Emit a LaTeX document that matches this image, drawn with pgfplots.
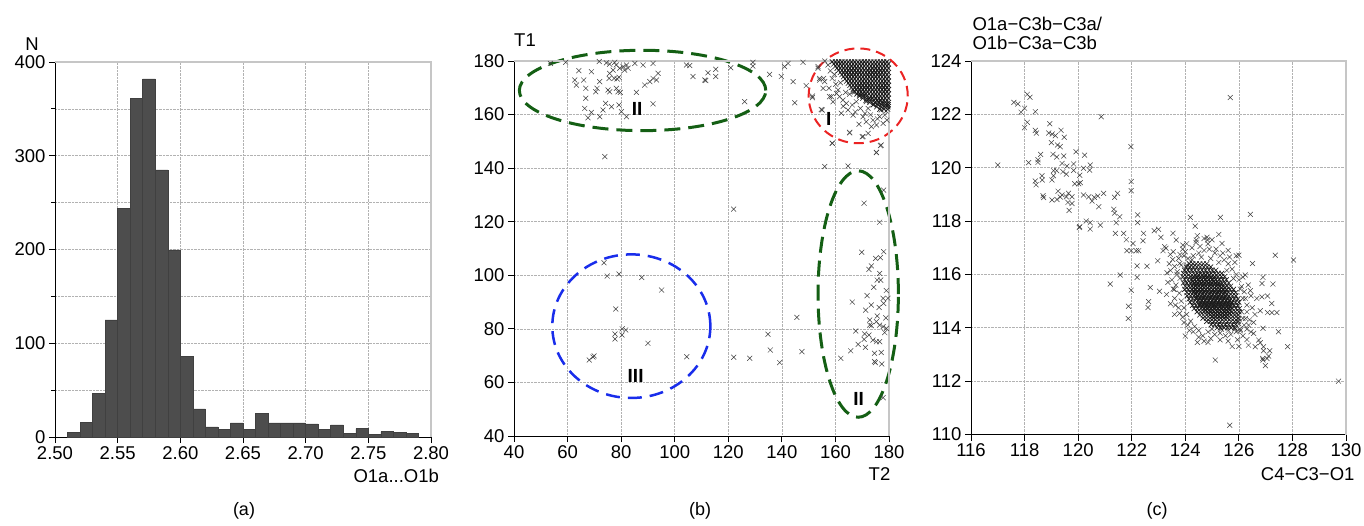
\documentclass[border=0pt]{standalone}
\usepackage{pgfplots}
\pgfplotsset{compat=1.18}
\usepackage{fontspec}
\setmainfont{Liberation Sans}
\definecolor{dgreen}{RGB}{20,95,20}
\definecolor{ered}{RGB}{235,35,35}
\definecolor{eblue}{RGB}{25,45,235}
\definecolor{barfill}{RGB}{77,77,77}
\pgfplotsset{
  myax/.style={
    scale only axis, anchor=south west,
    axis lines*=left,
    axis line style={-, black, line width=0.9pt},
    tick align=outside,
    major tick length=6pt, minor tick length=4pt,
    tick style={black, line width=0.8pt},
    grid=major,
    major grid style={gray!60, densely dotted, line width=0.6pt},
    minor grid style={gray!60, densely dotted, line width=0.6pt},
    tick label style={font=\fontsize{18.5}{20}\selectfont},
    /pgf/number format/assume math mode=true,
    clip=false,
  },
  sc/.style={only marks, mark=x, mark size=3.5pt, mark options={line width=0.5pt, draw=black!75}},
  scd/.style={only marks, mark=x, mark size=3.5pt, mark options={line width=0.65pt, draw=black!90}},
}
\begin{document}
\begin{tikzpicture}
\useasboundingbox (0pt,0pt) rectangle (1364pt,525pt);
% ---------------- (a)
\begin{axis}[myax, at={(55pt,88pt)}, width=376pt, height=375pt,
  xmin=2.5, xmax=2.8, ymin=0, ymax=400,
  xtick={2.5,2.55,2.6,2.65,2.7,2.75,2.8},
  xticklabels={2.50,2.55,2.60,2.65,2.70,2.75,2.80},
  ytick={0,100,200,300,400}, minor ytick={50,150,250,350}, grid=both]
\addplot[ybar interval, mark=none, fill=barfill, draw=black!75, line width=0.5pt] coordinates {
(2.51,5.3)(2.52,16)(2.53,46.7)(2.54,125)(2.55,244)(2.56,361.5)(2.57,382)(2.58,285)(2.59,199.5)
(2.60,86)(2.61,30)(2.62,10.7)(2.63,8.5)(2.64,15)(2.65,7.8)(2.66,25.6)(2.67,15)(2.68,15)(2.69,15)
(2.70,14)(2.71,8)(2.72,13)(2.73,3.6)(2.74,9)(2.75,2.5)(2.76,5.7)(2.77,4.6)(2.78,3.6)(2.79,3.6)};
\draw[gray!45, line width=1.2pt] (rel axis cs:0,1) -- (rel axis cs:1,1) -- (rel axis cs:1,0);
\end{axis}
% ---------------- (b)
\begin{axis}[myax, at={(514pt,89pt)}, width=375pt, height=375pt,
  xmin=40, xmax=180, ymin=40, ymax=180,
  xtick={40,60,...,180}, ytick={40,60,...,180}]
\addplot[sc] coordinates {
(53.6,179.1)(59.3,179.5)(64.2,176.4)(68.9,176.0)(71.8,179.8)(74.5,179.3)(75.7,178.8)(77.6,179.5)(78.2,178.5)(80.7,177.9)(82.0,178.5)(82.6,177.3)(81.3,176.6)(79.5,177.3)(77.0,176.6)(75.7,175.4)(75.5,173.5)(77.4,173.5)(78.5,173.3)(79.2,173.9)(85.1,179.1)(88.2,178.5)(91.9,179.1)(93.8,175.4)(91.9,173.5)(93.2,172.9)(90.7,172.3)(88.8,171.0)(85.7,168.3)(62.7,172.9)(63.3,171.0)(66.0,172.9)(66.8,169.8)(71.0,169.8)(72.0,172.3)(70.5,168.5)(75.1,169.2)(75.7,168.5)(78.2,169.8)(78.8,168.5)(79.7,168.3)(66.8,166.1)(66.4,162.3)(68.9,160.8)(67.6,158.8)(72.0,159.2)(73.2,161.7)(74.2,164.2)(76.4,162.9)(79.2,163.6)(80.1,161.1)(82.0,159.2)(91.9,164.0)(73.9,144.3)(104.4,178.5)(105.6,178.3)(106.8,174.2)(111.2,172.9)
(112.4,175.6)(115.3,176.9)(115.3,174.2)(111.6,172.7)(120.9,177.5)(126.1,164.8)(129.2,179.5)(129.2,178.1)(135.4,175.0)(139.8,174.2)(141.0,177.9)(142.3,179.1)(144.2,172.3)(144.8,164.4)(147.9,179.5)(149.1,170.8)(151.4,166.9)(153.5,177.9)(154.1,172.9)(155.1,161.7)(157.8,166.7)(156.0,140.6)(164.7,140.8)(158.8,149.3)(165.3,153.2)(170.3,151.8)(175.3,145.8)(176.8,148.4)(178.0,131.8)(170.7,126.9)(176.5,119.8)(122.0,124.7)
(73.6,104.7)(74.8,99.7)(79.2,100.5)(87.7,99.2)(95.1,94.5)(78.0,87.4)(77.7,78.1)(77.7,76.2)(80.4,80.0)(81.7,79.6)(80.3,77.7)(90.0,74.6)(68.1,68.4)(69.9,69.9)(69.5,69.5)(104.5,69.6)(122.0,69.4)(128.0,69.0)(134.8,78.0)(135.7,72.1)(139.2,67.4)(145.6,84.3)(147.5,71.5)(162.0,69.0)(177.8,54.3)
(169.8,108.6)(178.0,108.8)(175.0,106.3)(176.8,106.6)(173.4,103.5)(172.5,102.2)(176.5,100.7)(175.6,98.2)(176.9,98.2)(174.3,95.5)(179.0,94.3)(171.8,92.4)(177.8,91.4)(179.6,91.4)(166.3,90.0)(173.4,88.9)(176.3,88.0)(178.0,89.5)(171.3,87.0)(175.6,84.8)(172.8,83.3)(178.8,84.1)(175.3,82.7)(173.4,81.2)(176.5,81.4)(177.8,80.8)(172.8,81.4)(179.0,80.2)(167.6,79.2)(170.9,78.1)(172.5,77.7)(178.4,78.6)(174.0,75.8)(175.3,75.2)(176.5,75.2)(170.7,76.1)(168.5,74.2)(171.2,73.1)(165.7,71.8)(174.6,70.9)(177.1,71.2)(174.6,67.8)(174.9,67.4)(177.3,66.9)
(153.5,177.3)(154.1,173.5)(155.6,173.5)(155.4,169.8)(157.6,169.8)(156.0,172.3)(151.4,166.3)(158.5,166.7)(159.1,164.8)(154.7,161.9)(161.6,166.7)(162.8,165.4)(164.1,164.2)(162.2,160.5)(164.7,161.7)(166.3,163.6)(166.6,159.8)(170.3,159.2)(171.5,157.3)(174.0,157.9)(175.3,156.1)(173.4,155.5)(172.2,153.0)(177.8,156.7)(178.4,159.8)(176.5,159.2)(177.1,161.7)(165.3,153.4)(170.0,151.7)(158.8,149.3)(177.1,148.6)(175.3,145.9)(169.3,162.3)(167.8,164.8)(172.2,162.3)(174.0,163.6)(179.6,163.6)(171.5,164.8)(175.9,164.8)(169.0,167.3)(166.6,168.5)(165.3,167.6)(163.8,168.3)(161.0,169.2)(160.1,171.3)(158.8,173.5)(158.1,176.3)(157.2,178.5)(156.0,180.0)
(160.4,167.9)(162.9,163.1)(167.4,161.0)(171.0,160.4)(173.1,159.9)(175.7,158.4)(179.2,157.9)(178.9,161.3)(168.8,156.4)(161.9,171.9)(159.6,175.0)
};
\addplot[scd] coordinates {
(158.8,179.7)(160.0,179.7)(161.2,179.7)(162.4,179.7)(163.6,179.7)(164.8,179.7)(166.0,179.7)(167.2,179.7)(168.4,179.7)(169.6,179.7)(170.8,179.7)(172.0,179.7)(173.2,179.7)(174.4,179.7)(175.6,179.7)(176.8,179.7)(178.0,179.7)(179.2,179.7)
(159.4,178.9)(160.6,178.9)(161.8,178.9)(163.0,178.9)(164.2,178.9)(165.4,178.9)(166.6,178.9)(167.8,178.9)(169.0,178.9)(170.2,178.9)(171.4,178.9)(172.6,178.9)(173.8,178.9)(175.0,178.9)(176.2,178.9)(177.4,178.9)(178.6,178.9)(179.8,178.9)
(160.0,178.1)(161.2,178.1)(162.4,178.1)(163.6,178.1)(164.8,178.1)(166.0,178.1)(167.2,178.1)(168.4,178.1)(169.6,178.1)(170.8,178.1)(172.0,178.1)(173.2,178.1)(174.4,178.1)(175.6,178.1)(176.8,178.1)(178.0,178.1)(179.2,178.1)
(160.6,177.3)(161.8,177.3)(163.0,177.3)(164.2,177.3)(165.4,177.3)(166.6,177.3)(167.8,177.3)(169.0,177.3)(170.2,177.3)(171.4,177.3)(172.6,177.3)(173.8,177.3)(175.0,177.3)(176.2,177.3)(177.4,177.3)(178.6,177.3)(179.8,177.3)
(161.2,176.5)(162.4,176.5)(163.6,176.5)(164.8,176.5)(166.0,176.5)(167.2,176.5)(168.4,176.5)(169.6,176.5)(170.8,176.5)(172.0,176.5)(173.2,176.5)(174.4,176.5)(175.6,176.5)(176.8,176.5)(178.0,176.5)(179.2,176.5)
(161.8,175.7)(163.0,175.7)(164.2,175.7)(165.4,175.7)(166.6,175.7)(167.8,175.7)(169.0,175.7)(170.2,175.7)(171.4,175.7)(172.6,175.7)(173.8,175.7)(175.0,175.7)(176.2,175.7)(177.4,175.7)(178.6,175.7)(179.8,175.7)
(162.4,174.9)(163.6,174.9)(164.8,174.9)(166.0,174.9)(167.2,174.9)(168.4,174.9)(169.6,174.9)(170.8,174.9)(172.0,174.9)(173.2,174.9)(174.4,174.9)(175.6,174.9)(176.8,174.9)(178.0,174.9)(179.2,174.9)
(163.0,174.1)(164.2,174.1)(165.4,174.1)(166.6,174.1)(167.8,174.1)(169.0,174.1)(170.2,174.1)(171.4,174.1)(172.6,174.1)(173.8,174.1)(175.0,174.1)(176.2,174.1)(177.4,174.1)(178.6,174.1)(179.8,174.1)
(163.6,173.3)(164.8,173.3)(166.0,173.3)(167.2,173.3)(168.4,173.3)(169.6,173.3)(170.8,173.3)(172.0,173.3)(173.2,173.3)(174.4,173.3)(175.6,173.3)(176.8,173.3)(178.0,173.3)(179.2,173.3)
(164.2,172.5)(165.4,172.5)(166.6,172.5)(167.8,172.5)(169.0,172.5)(170.2,172.5)(171.4,172.5)(172.6,172.5)(173.8,172.5)(175.0,172.5)(176.2,172.5)(177.4,172.5)(178.6,172.5)(179.8,172.5)
(164.8,171.7)(166.0,171.7)(167.2,171.7)(168.4,171.7)(169.6,171.7)(170.8,171.7)(172.0,171.7)(173.2,171.7)(174.4,171.7)(175.6,171.7)(176.8,171.7)(178.0,171.7)(179.2,171.7)
(165.4,170.9)(166.6,170.9)(167.8,170.9)(169.0,170.9)(170.2,170.9)(171.4,170.9)(172.6,170.9)(173.8,170.9)(175.0,170.9)(176.2,170.9)(177.4,170.9)(178.6,170.9)(179.8,170.9)
(165.9,170.1)(167.2,170.1)(168.4,170.1)(169.6,170.1)(170.8,170.1)(172.0,170.1)(173.2,170.1)(174.4,170.1)(175.6,170.1)(176.8,170.1)(178.0,170.1)(179.2,170.1)
(166.6,169.3)(167.8,169.3)(169.0,169.3)(170.2,169.3)(171.4,169.3)(172.6,169.3)(173.8,169.3)(175.0,169.3)(176.2,169.3)(177.4,169.3)(178.6,169.3)(179.8,169.3)
(167.2,168.5)(168.4,168.5)(169.6,168.5)(170.8,168.5)(172.0,168.5)(173.2,168.5)(174.4,168.5)(175.6,168.5)(176.8,168.5)(178.0,168.5)(179.2,168.5)
(168.0,167.7)(169.0,167.7)(170.2,167.7)(171.4,167.7)(172.6,167.7)(173.8,167.7)(175.0,167.7)(176.2,167.7)(177.4,167.7)(178.6,167.7)(179.8,167.7)
(169.0,166.9)(170.3,166.9)(171.6,166.9)(173.2,166.9)(174.4,166.9)(175.6,166.9)(176.8,166.9)(178.0,166.9)(179.2,166.9)
(170.2,166.1)(171.6,166.1)(172.8,166.1)(173.8,166.1)(175.0,166.1)(176.2,166.1)(177.4,166.1)(178.6,166.1)(179.8,166.1)
(171.4,165.3)(172.9,165.3)(174.4,165.3)(175.6,165.3)(176.8,165.3)(178.0,165.3)(179.2,165.3)
(172.8,164.5)(174.6,164.5)(176.2,164.5)(177.4,164.5)(178.6,164.5)(179.8,164.5)
(174.2,163.7)(175.8,163.7)(177.2,163.7)(178.6,163.7)(179.7,163.7)
(175.4,162.9)(177.0,162.9)(178.4,162.9)(179.6,162.9)
(176.6,162.0)(178.1,162.0)(179.5,162.0)
};
\draw[dgreen, line width=3pt, dash pattern=on 16pt off 8pt] (axis cs:88,169) ellipse [x radius=46, y radius=15];
\draw[ered, line width=2pt, dash pattern=on 10pt off 6pt] (axis cs:168.5,167) ellipse [x radius=18.5, y radius=17.7];
\draw[dgreen, line width=3pt, dash pattern=on 16pt off 8pt] (axis cs:168.5,93) ellipse [x radius=15, y radius=46];
\draw[eblue, line width=2.5pt, dash pattern=on 14pt off 8pt] (axis cs:83.8,81) ellipse [x radius=29.5, y radius=26.8];
\node[font=\fontsize{19}{20}\selectfont\bfseries] at (axis cs:86,162) {II};
\node[font=\fontsize{19}{20}\selectfont\bfseries] at (axis cs:157.5,158.2) {I};
\node[font=\fontsize{19}{20}\selectfont\bfseries] at (axis cs:168.7,53.7) {II};
\node[font=\fontsize{19}{20}\selectfont\bfseries] at (axis cs:85.4,62.4) {III};
\draw[gray!45, line width=1.2pt] (rel axis cs:0,1) -- (rel axis cs:1,1) -- (rel axis cs:1,0);
\end{axis}
% ---------------- (c)
\begin{axis}[myax, at={(971pt,90.5pt)}, width=375pt, height=373.5pt,
  xmin=116, xmax=130, ymin=110, ymax=124,
  xtick={116,118,...,130}, ytick={110,112,...,124}]
\addplot[sc] coordinates {
(117.0,120.1)(117.6,122.45)(117.75,122.39)(117.87,122.08)(118.0,122.23)(118.1,122.75)(118.2,122.64)(118.0,121.5)(118.1,121.7)(118.4,122.1)(118.4,121.4)(118.44,121.3)(118.15,120.19)(118.6,120.5)(118.5,120.3)(118.5,120.2)(118.4,119.5)(118.65,119.7)(118.66,119.54)(118.43,119.36)(118.69,118.95)(118.71,118.88)(118.94,121.65)(118.9,121.3)(119.0,120.94)(119.03,121.26)(119.15,121.2)(119.36,121.4)(119.23,120.85)(119.33,120.79)(119.48,121.14)(119.06,120.5)(119.2,120.4)(119.46,120.44)(119.08,119.89)(119.2,119.89)(119.4,120.16)(119.58,120.06)(119.43,119.85)(119.56,119.76)(119.02,119.54)(119.08,119.7)(119.25,119.12)(119.4,118.98)(119.21,118.81)(119.02,118.79)(119.33,118.9)(119.56,118.91)(119.64,119.04)(119.77,118.91)(119.62,118.7)(119.66,118.4)(119.77,118.66)(119.83,120.14)(119.92,120.6)(119.83,119.9)(120.02,119.4)(119.87,119.4)(120.06,119.72)(120.2,119.98)(120.24,120.47)(120.08,119.44)(120.2,118.98)(120.39,118.91)(120.45,120.1)(120.43,119.91)(120.52,118.75)(120.6,118.89)(120.73,118.94)(120.95,119.04)(120.86,121.91)(120.77,118.54)(120.83,117.85)(120.45,117.94)(120.3,118.0)(120.06,117.79)(120.04,117.76)(120.45,117.7)(121.36,118.89)(121.33,118.44)(121.36,118.3)(121.47,119.04)(121.55,118.16)(121.42,117.94)(121.39,117.54)(121.7,117.54)(121.8,117.3)(121.57,115.98)(121.2,115.64)(121.97,120.79)(121.98,119.48)(121.98,119.14)(121.82,116.89)(121.98,116.89)(121.98,115.41)(121.88,114.81)(121.87,114.35)(122.05,117.16)(122.17,116.89)(122.2,116.32)(122.2,115.89)(122.26,116.89)(122.22,118.23)(122.22,117.94)(122.44,117.54)(122.42,117.26)(122.57,116.31)(122.61,114.76)(122.63,114.98)(122.69,115.51)(122.84,117.64)(123.0,117.69)(122.97,116.51)(123.04,115.37)(123.09,117.39)(123.23,117.04)(123.17,116.89)(123.32,116.06)(123.28,116.98)(123.44,116.75)(123.66,117.29)(123.54,117.54)(123.59,115.44)(123.53,116.56)(123.69,116.0)(123.79,116.41)(123.91,117.1)(123.63,114.85)(123.79,114.54)(124.0,113.69)(124.19,118.14)(124.37,117.81)(124.41,117.29)(124.81,117.39)(124.83,117.29)(125.31,118.14)(125.37,117.16)(125.12,112.79)(125.68,122.63)(125.66,110.35)(126.0,116.72)(126.24,115.98)(126.43,118.25)(126.51,116.41)(126.43,115.39)(126.3,113.56)(126.36,113.35)(126.61,113.29)(126.55,113.79)(126.67,115.1)(126.74,113.54)(126.8,113.44)(126.92,113.29)(126.9,113.98)(126.9,115.89)(126.86,115.66)(126.86,115.16)(126.92,113.14)(126.89,112.85)(126.9,112.79)(126.99,112.58)(127.05,112.85)(127.11,112.94)(127.15,113.14)(127.07,114.57)(127.07,115.19)(127.23,114.57)(127.23,114.91)(127.27,115.64)(127.36,116.72)(127.42,114.57)(127.48,113.85)(127.82,113.29)(128.04,116.54)(129.72,112.0)(126.8,114.64)(126.36,114.1)(126.0,114.35)(126.05,113.89)
(123.75,116.6)(123.85,116.35)(123.7,116.1)(123.8,115.85)(123.65,115.6)(123.78,115.3)(123.85,115.0)(123.95,114.75)(124.05,114.5)(124.2,114.25)(124.35,114.05)(124.5,113.9)(124.65,113.7)(124.85,113.85)(125.0,113.95)(125.1,113.75)(125.3,113.8)(125.5,113.7)(125.7,113.75)(125.9,113.85)(126.05,113.95)(126.2,114.1)(126.25,114.35)(126.3,114.6)(126.3,114.85)(126.25,115.1)(126.2,115.35)(126.1,115.55)(126.0,115.8)(125.9,116.0)(125.75,116.2)(125.6,116.4)(125.45,116.55)(125.3,116.7)(125.1,116.8)(124.9,116.95)(124.7,116.9)(124.5,116.8)(124.3,116.7)(124.1,116.6)(124.0,116.85)(124.25,117.0)(124.55,117.05)(124.85,117.15)(125.15,116.95)(125.4,116.8)(125.65,116.65)(125.85,116.45)(126.15,115.9)(126.35,115.6)(126.45,115.2)(126.5,114.75)(126.4,114.3)(126.3,113.95)(126.15,113.7)(125.95,113.55)(125.6,113.5)(125.3,113.55)(124.95,113.6)(124.7,113.5)(124.5,113.65)(124.3,113.85)(124.1,114.1)(123.9,114.4)(123.75,114.75)(123.6,115.1)(123.55,115.45)(123.5,115.8)(123.6,116.3)(123.9,116.95)(124.4,117.2)(124.7,117.35)(125.0,117.3)(125.6,116.9)(125.9,116.7)
(123.4,116.4)(123.55,116.85)(123.8,116.75)(124.05,116.35)(124.25,116.55)(123.45,116.15)(123.95,116.7)(124.6,116.65)(124.95,116.6)(125.25,116.45)(125.55,116.15)(125.8,115.85)(126.05,115.45)(126.15,115.1)(126.1,114.6)(126.15,114.35)(126.0,114.15)(125.85,113.95)(125.6,113.9)(125.35,113.95)(126.45,113.85)(126.55,114.2)(126.6,114.5)(126.0,113.3)(125.75,113.3)(124.85,113.45)(124.45,113.45)(124.15,113.9)(123.95,114.2)(123.6,114.5)(123.45,114.9)(123.3,115.25)(123.35,115.7)(124.05,117.15)(124.45,117.45)(125.25,117.5)
};
\addplot[scd] coordinates {
(124.15,116.40)(124.28,116.40)(124.41,116.40)(124.54,116.40)(124.67,116.40)(124.80,116.40)
(124.04,116.28)(124.17,116.28)(124.30,116.28)(124.43,116.28)(124.56,116.28)(124.69,116.28)(124.82,116.28)(124.95,116.28)
(123.97,116.16)(124.10,116.16)(124.23,116.16)(124.36,116.16)(124.49,116.16)(124.62,116.16)(124.75,116.16)(124.88,116.16)(125.01,116.16)(125.14,116.16)
(123.93,116.04)(124.06,116.04)(124.19,116.04)(124.32,116.04)(124.45,116.04)(124.58,116.04)(124.71,116.04)(124.84,116.04)(124.97,116.04)(125.10,116.04)(125.23,116.04)(125.36,116.04)
(123.92,115.92)(124.05,115.92)(124.18,115.92)(124.31,115.92)(124.44,115.92)(124.57,115.92)(124.70,115.92)(124.83,115.92)(124.96,115.92)(125.09,115.92)(125.22,115.92)(125.35,115.92)(125.47,115.92)
(123.97,115.80)(124.10,115.80)(124.23,115.80)(124.36,115.80)(124.49,115.80)(124.62,115.80)(124.75,115.80)(124.88,115.80)(125.01,115.80)(125.14,115.80)(125.27,115.80)(125.40,115.80)(125.53,115.80)
(123.93,115.68)(124.06,115.68)(124.19,115.68)(124.32,115.68)(124.45,115.68)(124.58,115.68)(124.71,115.68)(124.84,115.68)(124.97,115.68)(125.10,115.68)(125.23,115.68)(125.36,115.68)(125.49,115.68)(125.62,115.68)
(124.00,115.56)(124.13,115.56)(124.26,115.56)(124.39,115.56)(124.52,115.56)(124.65,115.56)(124.78,115.56)(124.91,115.56)(125.04,115.56)(125.17,115.56)(125.30,115.56)(125.43,115.56)(125.56,115.56)(125.69,115.56)
(123.98,115.44)(124.11,115.44)(124.24,115.44)(124.37,115.44)(124.50,115.44)(124.63,115.44)(124.76,115.44)(124.89,115.44)(125.02,115.44)(125.15,115.44)(125.28,115.44)(125.41,115.44)(125.54,115.44)(125.67,115.44)(125.80,115.44)
(124.06,115.32)(124.19,115.32)(124.32,115.32)(124.45,115.32)(124.58,115.32)(124.71,115.32)(124.84,115.32)(124.97,115.32)(125.10,115.32)(125.23,115.32)(125.36,115.32)(125.49,115.32)(125.62,115.32)(125.75,115.32)(125.88,115.32)
(124.07,115.20)(124.20,115.20)(124.33,115.20)(124.46,115.20)(124.59,115.20)(124.72,115.20)(124.85,115.20)(124.98,115.20)(125.11,115.20)(125.24,115.20)(125.37,115.20)(125.50,115.20)(125.63,115.20)(125.76,115.20)(125.89,115.20)
(124.14,115.08)(124.27,115.08)(124.40,115.08)(124.53,115.08)(124.66,115.08)(124.79,115.08)(124.92,115.08)(125.05,115.08)(125.18,115.08)(125.31,115.08)(125.44,115.08)(125.57,115.08)(125.70,115.08)(125.83,115.08)(125.96,115.08)
(124.18,114.96)(124.31,114.96)(124.44,114.96)(124.57,114.96)(124.70,114.96)(124.83,114.96)(124.96,114.96)(125.09,114.96)(125.22,114.96)(125.35,114.96)(125.48,114.96)(125.61,114.96)(125.74,114.96)(125.87,114.96)(126.00,114.96)
(124.27,114.84)(124.40,114.84)(124.53,114.84)(124.66,114.84)(124.79,114.84)(124.92,114.84)(125.05,114.84)(125.18,114.84)(125.31,114.84)(125.44,114.84)(125.57,114.84)(125.70,114.84)(125.83,114.84)(125.96,114.84)
(124.33,114.72)(124.46,114.72)(124.59,114.72)(124.72,114.72)(124.85,114.72)(124.98,114.72)(125.11,114.72)(125.24,114.72)(125.37,114.72)(125.50,114.72)(125.63,114.72)(125.76,114.72)(125.89,114.72)(126.02,114.72)
(124.44,114.60)(124.57,114.60)(124.70,114.60)(124.83,114.60)(124.96,114.60)(125.09,114.60)(125.22,114.60)(125.35,114.60)(125.48,114.60)(125.61,114.60)(125.74,114.60)(125.87,114.60)(126.00,114.60)
(124.54,114.48)(124.67,114.48)(124.80,114.48)(124.93,114.48)(125.06,114.48)(125.19,114.48)(125.32,114.48)(125.45,114.48)(125.58,114.48)(125.71,114.48)(125.84,114.48)(125.97,114.48)
(124.66,114.36)(124.79,114.36)(124.92,114.36)(125.05,114.36)(125.18,114.36)(125.31,114.36)(125.44,114.36)(125.57,114.36)(125.70,114.36)(125.83,114.36)(125.96,114.36)
(124.80,114.24)(124.93,114.24)(125.06,114.24)(125.19,114.24)(125.32,114.24)(125.45,114.24)(125.58,114.24)(125.71,114.24)(125.84,114.24)(125.97,114.24)
(124.97,114.12)(125.10,114.12)(125.23,114.12)(125.36,114.12)(125.49,114.12)(125.62,114.12)(125.75,114.12)(125.88,114.12)
(125.19,114.00)(125.32,114.00)(125.45,114.00)(125.58,114.00)(125.71,114.00)(125.84,114.00)
(124.36,115.98)(124.49,115.98)(124.62,115.98)(124.75,115.98)(124.88,115.98)
(124.30,115.86)(124.43,115.86)(124.56,115.86)(124.69,115.86)(124.82,115.86)(124.95,115.86)(125.08,115.86)
(124.28,115.74)(124.41,115.74)(124.54,115.74)(124.67,115.74)(124.80,115.74)(124.93,115.74)(125.06,115.74)(125.19,115.74)
(124.30,115.62)(124.43,115.62)(124.56,115.62)(124.69,115.62)(124.82,115.62)(124.95,115.62)(125.08,115.62)(125.21,115.62)(125.34,115.62)
(124.30,115.50)(124.43,115.50)(124.56,115.50)(124.69,115.50)(124.82,115.50)(124.95,115.50)(125.08,115.50)(125.21,115.50)(125.34,115.50)(125.47,115.50)
(124.33,115.38)(124.46,115.38)(124.59,115.38)(124.72,115.38)(124.85,115.38)(124.98,115.38)(125.11,115.38)(125.24,115.38)(125.37,115.38)(125.50,115.38)
(124.37,115.26)(124.50,115.26)(124.63,115.26)(124.76,115.26)(124.89,115.26)(125.02,115.26)(125.15,115.26)(125.28,115.26)(125.41,115.26)(125.54,115.26)
(124.42,115.14)(124.55,115.14)(124.68,115.14)(124.81,115.14)(124.94,115.14)(125.07,115.14)(125.20,115.14)(125.33,115.14)(125.46,115.14)(125.59,115.14)
(124.48,115.02)(124.61,115.02)(124.74,115.02)(124.87,115.02)(125.00,115.02)(125.13,115.02)(125.26,115.02)(125.39,115.02)(125.52,115.02)(125.65,115.02)
(124.55,114.90)(124.68,114.90)(124.81,114.90)(124.94,114.90)(125.07,114.90)(125.20,114.90)(125.33,114.90)(125.46,114.90)(125.59,114.90)(125.72,114.90)
(124.63,114.78)(124.76,114.78)(124.89,114.78)(125.02,114.78)(125.15,114.78)(125.28,114.78)(125.41,114.78)(125.54,114.78)(125.67,114.78)
(124.74,114.66)(124.87,114.66)(125.00,114.66)(125.13,114.66)(125.26,114.66)(125.39,114.66)(125.52,114.66)(125.65,114.66)
(124.86,114.54)(124.99,114.54)(125.12,114.54)(125.25,114.54)(125.38,114.54)(125.51,114.54)(125.64,114.54)
(125.02,114.42)(125.15,114.42)(125.28,114.42)(125.41,114.42)(125.54,114.42)
};
\draw[gray!45, line width=1.2pt] (rel axis cs:0,1) -- (rel axis cs:1,1) -- (rel axis cs:1,0);
\end{axis}
% ---------------- labels
\node[font=\fontsize{18.5}{20}\selectfont] at (32pt,481pt) {N};
\node[font=\fontsize{18.5}{20}\selectfont, anchor=west] at (350pt,49.5pt) {O1a...O1b};
\node[font=\fontsize{18.5}{20}\selectfont] at (525pt,485pt) {T1};
\node[font=\fontsize{18.5}{20}\selectfont] at (879.5pt,51pt) {T2};
\node[font=\fontsize{18.5}{20}\selectfont, anchor=west] at (969pt,501.3pt) {O1a−C3b−C3a/};
\node[font=\fontsize{18.5}{20}\selectfont, anchor=west] at (969pt,482.5pt) {O1b−C3a−C3b};
\node[font=\fontsize{18.5}{20}\selectfont, anchor=east] at (1358pt,51pt) {C4−C3−O1};
\node[font=\fontsize{18}{20}\selectfont] at (244pt,14pt) {(a)};
\node[font=\fontsize{18}{20}\selectfont] at (700pt,14pt) {(b)};
\node[font=\fontsize{18}{20}\selectfont] at (1157pt,14pt) {(c)};
\end{tikzpicture}
\end{document}
